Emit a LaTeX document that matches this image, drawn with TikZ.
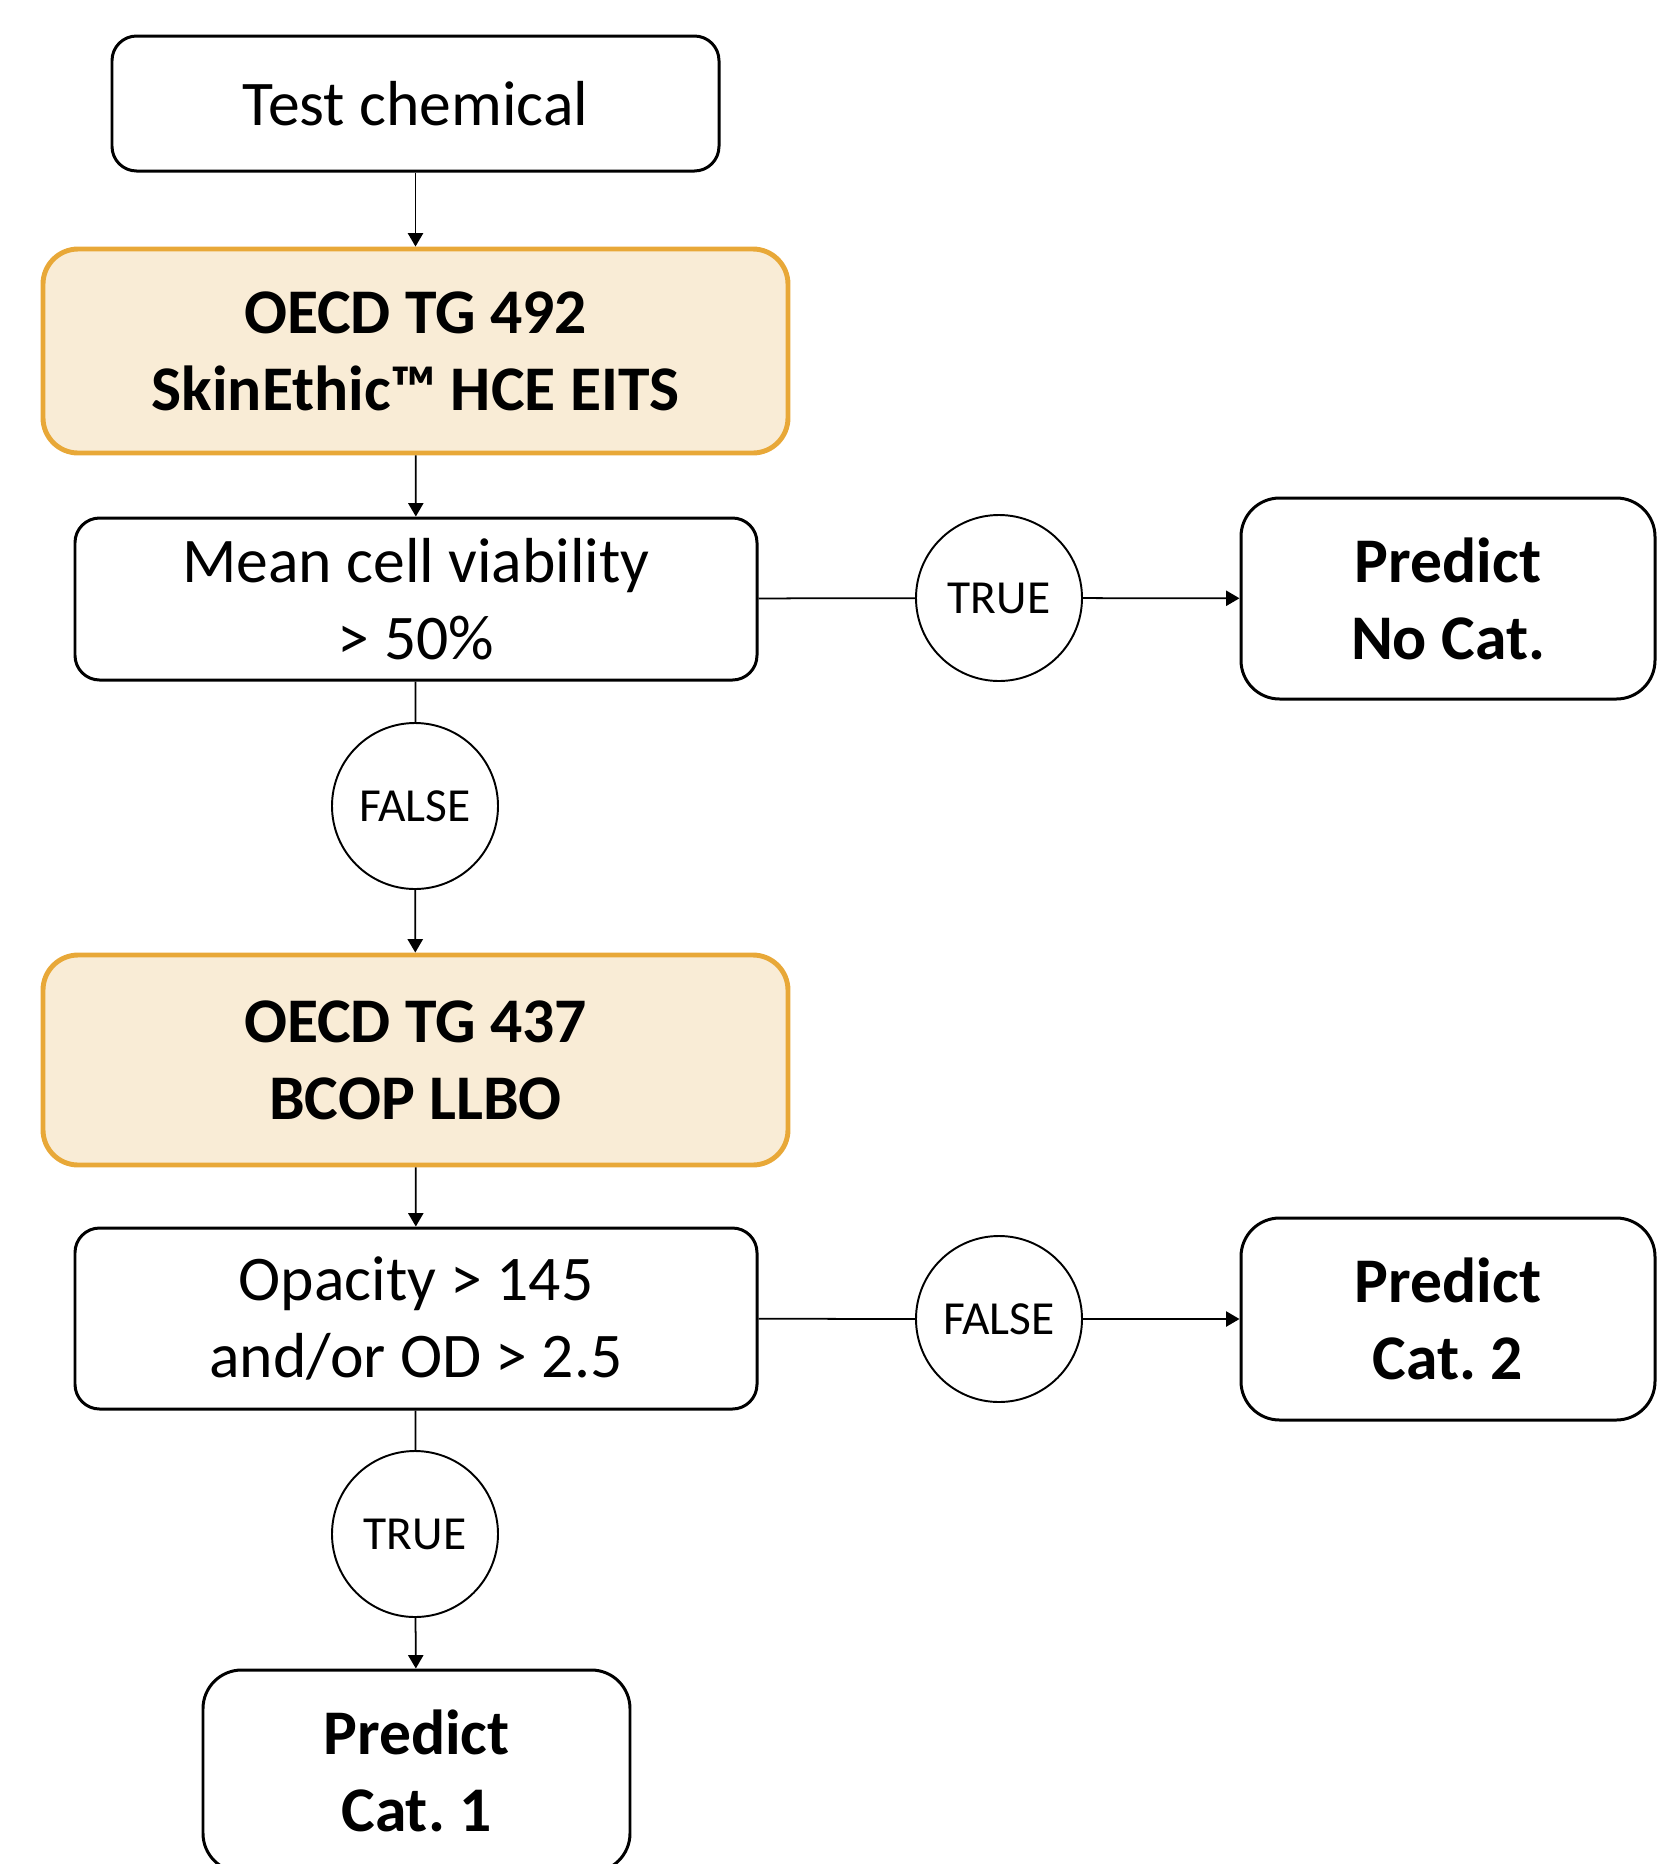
\documentclass[tikz,border=0pt]{standalone}
\usepackage{fontspec}
\setmainfont{Carlito}
\frenchspacing
\usetikzlibrary{arrows.meta}
\usetikzlibrary{positioning}
\definecolor{testorange}{RGB}{232,168,56}
\definecolor{testfill}{RGB}{249,236,214}
\tikzset{>={Triangle[length=3.8pt,width=4.3pt]}}
\tikzset{
  plainbox/.style={draw, line width=0.85pt, rounded corners=7pt, align=center,
    font=\fontsize{18.1}{21.9}\selectfont, inner sep=0pt},
  testbox/.style={draw=testorange, fill=testfill, line width=1.4pt, rounded corners=10pt,
    align=center, font=\fontsize{18.1}{21.9}\selectfont\bfseries, inner sep=0pt,
    minimum width=7.45cm},
  predbox/.style={draw, line width=0.85pt, rounded corners=11pt, align=center,
    font=\fontsize{18.1}{21.9}\selectfont\bfseries, inner sep=0pt},
  answer/.style={draw, circle, line width=0.55pt, minimum size=1.66cm, inner sep=0pt,
    font=\fontsize{13.5}{15}\selectfont},
  link/.style={line width=0.5pt}
}

\begin{document}
\begin{tikzpicture}
    \useasboundingbox (0, 0) rectangle (16.6, -18.64);
    % first test
    \node [plainbox, minimum width=6.07cm, minimum height=1.35cm] (chem) at (4.155, -1.035) {Test chemical};
    \node [testbox, minimum height=2.04cm] (tg492) at (4.155, -3.51) {OECD TG 492\\SkinEthic™ HCE EITS};
    \node [plainbox, minimum width=6.82cm, minimum height=1.62cm] (viab) at (4.16, -5.99) {Mean cell viability\\> 50\%};
    \node [answer] (true1) at (9.99, -5.98) {TRUE};
    \node [predbox, minimum width=4.14cm, minimum height=2.01cm] (nocat) at (14.48, -5.985) {Predict\\No Cat.};
    \node [answer] (false1) at (4.15, -8.06) {FALSE};
    % second test
    \node [testbox, minimum height=2.10cm] (tg437) at (4.155, -10.60) {OECD TG 437\\BCOP LLBO};
    \node [plainbox, minimum width=6.82cm, minimum height=1.81cm] (opac) at (4.16, -13.185) {Opacity > 145\\and/or OD > 2.5};
    \node [answer] (false2) at (9.99, -13.19) {FALSE};
    \node [predbox, minimum width=4.14cm, minimum height=2.02cm] (cattwo) at (14.48, -13.19) {Predict\\Cat. 2};
    \node [answer] (true2) at (4.15, -15.34) {TRUE};
    \node [predbox, minimum width=4.27cm, minimum height=2.02cm] (catone) at (4.165, -17.71) {Predict\\Cat. 1};
    % connectors
    \draw [link, ->] (chem) -- (tg492);
    \draw [link, ->] (tg492) -- (viab);
    \draw [link] (viab) -- (true1);
    \draw [link, ->] (true1) -- (nocat);
    \draw [link] (viab) -- (false1);
    \draw [link, ->] (false1) -- (tg437);
    \draw [link, ->] (tg437) -- (opac);
    \draw [link] (opac) -- (false2);
    \draw [link, ->] (false2) -- (cattwo);
    \draw [link] (opac) -- (true2);
    \draw [link, ->] (true2) -- (catone);
\end{tikzpicture}
\end{document}
